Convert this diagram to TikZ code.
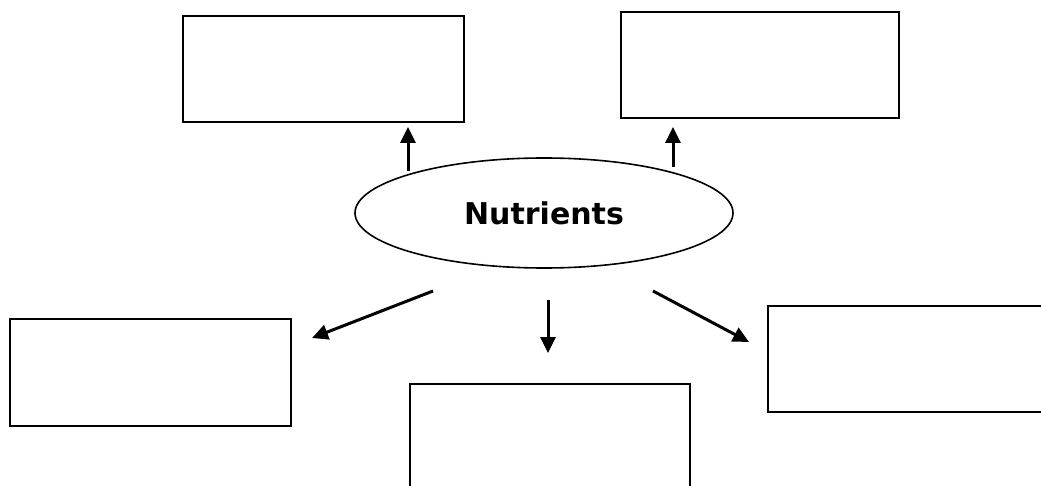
\documentclass[tikz,border=0pt]{standalone}
\usepackage{fontspec}
\setmainfont{DejaVu Sans}
\usetikzlibrary{shapes.geometric,arrows.meta}
\tikzset{
  blank/.style={draw=black, line width=2.4pt, minimum width=#1, anchor=north west, inner sep=0pt, minimum height=106pt},
  blank/.default=280pt,
  hub/.style={draw=black, line width=1.6pt, ellipse, minimum width=378pt, minimum height=110pt, inner sep=0pt},
  link/.style={line width=3pt, -{Triangle[length=16pt,width=15pt]}}
}
\begin{document}
\begin{tikzpicture}[x=1pt,y=-1pt]
\useasboundingbox (0,0) rectangle (1041,486);
\clip (0,0) rectangle (1041,486);
\node[blank=281pt] (tl) at (182,15) {};
\node[blank=278pt] (tr) at (620,11) {};
\node[blank=281pt, minimum height=107pt] (ml) at (9,318) {};
\node[blank=280pt, minimum height=120pt] (bm) at (409,383) {};
\node[blank=290pt] (mr) at (767,305) {};
\node[hub] (nut) at (544,213) {\fontsize{30}{34}\selectfont\bfseries Nutrients};
\coordinate (a1s) at (408,171); \coordinate (a1e) at (408,127);
\coordinate (a2s) at (673,167); \coordinate (a2e) at (673,127);
\coordinate (a3s) at (433,291); \coordinate (a3e) at (312,338);
\coordinate (a4s) at (548,300); \coordinate (a4e) at (548,353);
\coordinate (a5s) at (653,291); \coordinate (a5e) at (749,342);
\draw[link] (a1s) -- (a1e);
\draw[link] (a2s) -- (a2e);
\draw[link] (a3s) -- (a3e);
\draw[link] (a4s) -- (a4e);
\draw[link] (a5s) -- (a5e);
\end{tikzpicture}
\end{document}
